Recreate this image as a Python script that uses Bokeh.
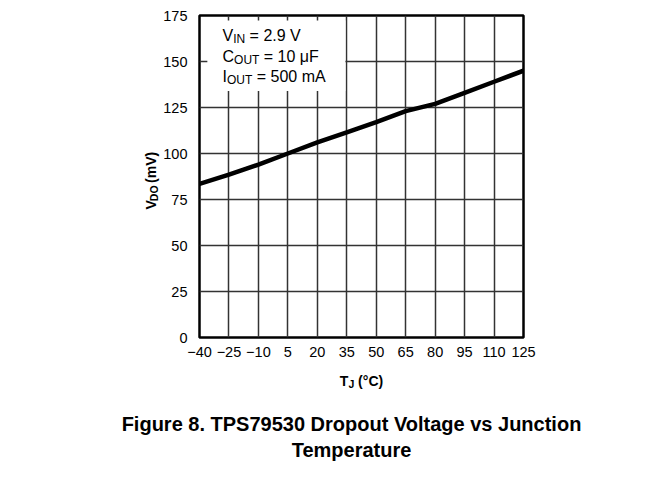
import math
from bokeh.plotting import figure
from bokeh.models import Range1d, FixedTicker, Label
from bokeh.layouts import column, row
from bokeh.core.properties import value
from bokeh.embed import file_html
from bokeh.resources import INLINE

# ---- data ----
temps = [-40, -25, -10, 5, 20, 35, 50, 65, 80, 95, 110, 125]
vdo = [83.5, 88.5, 94.0, 100.0, 106.0, 111.5, 117.0, 123.0, 127.0, 133.0, 139.0, 145.0]
x_ticks = [-40, -25, -10, 5, 20, 35, 50, 65, 80, 95, 110, 125]
y_ticks = [0, 25, 50, 75, 100, 125, 150, 175]
caption = ["Figure 8. TPS79530 Dropout Voltage vs Junction", "Temperature"]

FONT = "Liberation Sans"
NB = "\u00a0"

# ---- page layout (page pixel coordinates) ----
W, H = 655, 492
TOP_H = 7                  # strip with the rule
LEFT_W = 160               # strip with the y title
FR_L, FR_T, FW, FH = 199, 15, 324, 322   # plot frame on page
MAIN_W = W - LEFT_W
MAIN_H = 355
BOT_H = H - TOP_H - MAIN_H

ML = FR_L - LEFT_W
MT = FR_T - TOP_H
MR = MAIN_W - ML - FW
MB = MAIN_H - MT - FH

X0, X1, Y0, Y1 = -40, 125, 0, 175
XS, YS = FW / (X1 - X0), FH / (Y1 - Y0)
FR_B = FR_T + FH

def d(X, Y):
    return ((X - FR_L) / XS + X0, (FR_B - Y) / YS)

REG = {'V': 667, 'I': 278, 'N': 722, 'C': 722, 'O': 778, 'U': 722, 'T': 611, NB: 278,
       '=': 584, '.': 278, '\u03bc': 576, 'F': 611, 'm': 833, 'A': 667, 'a': 556,
       '(': 333, ')': 333, '\u00b0': 400}
BOLD = {'V': 667, 'D': 722, 'O': 778, NB: 278, '(': 333, 'm': 889, ')': 333,
        'T': 611, 'J': 556, '\u00b0': 400, 'C': 722}

def tw(s, size, bold=False):
    tab = BOLD if bold else REG
    return sum((tab.get(c, 556)) for c in s) / 1000.0 * size

def blank(w, h):
    f = figure(width=w, height=h, x_range=Range1d(0, w), y_range=Range1d(0, h),
               output_backend="svg", toolbar_location=None,
               x_axis_location=None, y_axis_location=None, min_border=0)
    f.outline_line_color = None
    f.background_fill_color = "white"
    f.border_fill_color = "white"
    f.xgrid.visible = False
    f.ygrid.visible = False
    return f

def gtext(f, x, y, txt, fs, bold, angle=0.0, align="left"):
    f.text(x=[x], y=[y], text=[txt], text_font=value(FONT), text_font_size=value(f"{fs}px"),
           text_font_style="bold" if bold else "normal", text_color="black",
           text_align=align, text_baseline="alphabetic", angle=angle)

# ---- top strip: horizontal rule ----
top = blank(W, TOP_H)
top.line(x=[0, W], y=[1, 1], line_color="black", line_width=2)

# ---- main chart ----
p = figure(width=MAIN_W, height=MAIN_H, x_range=Range1d(X0, X1), y_range=Range1d(Y0, Y1),
           output_backend="svg", toolbar_location=None,
           min_border_left=ML, min_border_right=MR, min_border_top=MT, min_border_bottom=MB)
p.background_fill_color = "white"
p.border_fill_color = "white"
p.outline_line_color = "black"
p.outline_line_width = 2.5

for ax in (p.xaxis[0], p.yaxis[0]):
    ax.axis_line_color = None
    ax.major_tick_line_color = None
    ax.minor_tick_line_color = None
    ax.major_tick_out = 0
    ax.major_tick_in = 0
    ax.minor_tick_out = 0
    ax.minor_tick_in = 0
    ax.major_label_text_font = FONT
    ax.major_label_text_font_size = "14.5px"
    ax.major_label_text_color = "black"

p.xaxis.ticker = FixedTicker(ticks=x_ticks)
p.xaxis.major_label_overrides = {t: str(t).replace("-", "\u2212") for t in x_ticks}
p.xaxis.major_label_standoff = 9
p.yaxis.ticker = FixedTicker(ticks=y_ticks)
p.yaxis.major_label_standoff = 12

p.xgrid.ticker = FixedTicker(ticks=x_ticks)
p.ygrid.ticker = FixedTicker(ticks=y_ticks)
for g in (p.xgrid[0], p.ygrid[0]):
    g.grid_line_color = "#333333"
    g.grid_line_width = 1.5

# white box behind the condition text
p.quad(left=-36, right=34.3, bottom=134, top=172.3, fill_color="white", line_color=None)

p.line(temps, vdo, line_color="black", line_width=4.5, line_cap="round")

def add_pieces(x_px, base_px, pieces, size, sub_size, sub_drop=3.5):
    cur = x_px
    for txt, is_sub in pieces:
        fs = sub_size if is_sub else size
        yb = base_px + (sub_drop if is_sub else 0)
        dx, dy = d(cur, yb)
        p.add_layout(Label(x=dx, y=dy, text=txt, text_font=FONT, text_font_size=f"{fs}px",
                           text_color="black", text_align="left", text_baseline="alphabetic"))
        cur += tw(txt, fs)

add_pieces(222, 35, [("V", False), ("IN", True), (NB + "=" + NB + "2.9" + NB + "V", False)], 16, 12)
add_pieces(222, 56, [("C", False), ("OUT", True), (NB + "=" + NB + "10" + NB + "\u03bcF", False)], 16, 12)
add_pieces(222, 76, [("I", False), ("OUT", True), (NB + "=" + NB + "500" + NB + "mA", False)], 16, 12)

# ---- left strip: y title V_DO (mV), rotated ----
left = blank(LEFT_W, MAIN_H)
yt = [("V", False), ("DO", True), (NB + "(mV)", False)]
cur = 221.0                 # page y where the rotated text starts (its bottom end)
for txt, is_sub in yt:
    fs = 10.5 if is_sub else 14
    bx = 150 + (3 if is_sub else 0)
    gtext(left, bx, MAIN_H - (cur - TOP_H), txt, fs, True, angle=math.pi / 2)
    cur -= tw(txt, fs, True)

# ---- bottom strip: x title and caption ----
bot = blank(W, BOT_H)
BOT_T = TOP_H + MAIN_H
xt = [("T", False), ("J", True), (NB + "(\u00b0C)", False)]
tot = sum(tw(t, 10.5 if s else 14, True) for t, s in xt)
cur = FR_L + FW / 2 - tot / 2
for txt, is_sub in xt:
    fs = 10.5 if is_sub else 14
    base = 380 + (3 if is_sub else 0)
    gtext(bot, cur, BOT_H - (base - BOT_T), txt, fs, True)
    cur += tw(txt, fs, True)

for i, line in enumerate(caption):
    gtext(bot, 351, BOT_H - (423 + 26 * i - BOT_T), line, 20, True, align="center")

layout = column(top, row(left, p), bot)
open("out.html", "w").write(file_html(layout, INLINE))
